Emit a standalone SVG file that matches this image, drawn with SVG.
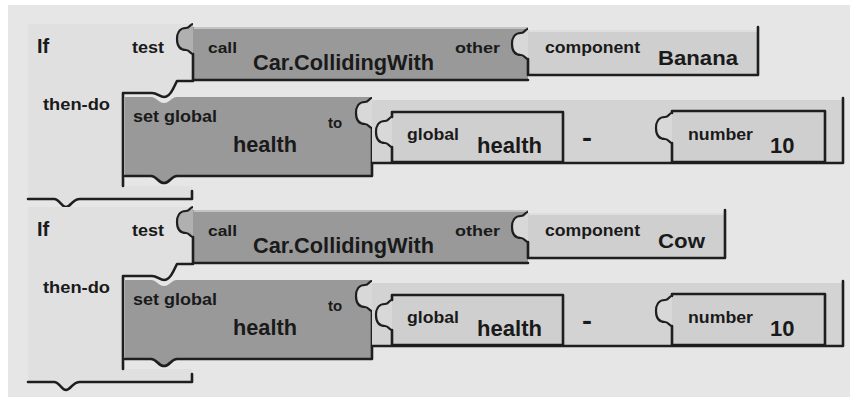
<svg xmlns="http://www.w3.org/2000/svg" xmlns:xlink="http://www.w3.org/1999/xlink" width="856" height="402" viewBox="0 0 856 402">
<style>
text{font-family:"Liberation Sans",Arial,sans-serif;font-weight:bold;fill:#1a1a1a}
.ifb{fill:#e0e0e0}
.dark{fill:#999999}
.light{fill:#cfcfcf}
.minus{fill:#d3d3d3}
.tabd{fill:#b0b0b0;stroke:#1e1e1e;stroke-width:2.2}
.tabl{fill:#d8d8d8;stroke:#1e1e1e;stroke-width:2.2}
.edge{fill:none;stroke:#1e1e1e;stroke-width:2.6;stroke-linejoin:round;stroke-linecap:round}
.hl{fill:none;stroke:#ededed;stroke-width:1.2}
</style>
<defs>
<path id="tab" d="M0,0 C-3,0 -3,4 -7,4 C-14,4 -16,10 -16,15 C-16,21 -14,26 -7,26 C-3,26 -3,30 0,30"/>
</defs>
<rect x="0" y="0" width="856" height="402" fill="#ffffff"/>
<rect x="8" y="5" width="842" height="392" fill="#e6e6e6"/>

<g id="row1">
<g id="if1">
<path class="ifb" d="M28,24 H193 V81 H177 L173,90 L166,97 H159 L152,93 H123 V186 H192 V199 H80 C72,199 71,207 66,207 C61,207 60,199 54,199 H28 Z"/>
<path class="edge" d="M193,81 H177 L173,89 C171,93 168,97 164,97 C160,97 157,93 152,93 H123 V186"/>
<path class="edge" d="M28,199 H54 C60,199 61,207 66,207 C71,207 72,199 80,199 H192 V191"/>
<text x="37" y="53" font-size="20">If</text>
<text x="132" y="53" font-size="16" textLength="32" lengthAdjust="spacingAndGlyphs">test</text>
<text x="43" y="110" font-size="17" textLength="67" lengthAdjust="spacingAndGlyphs">then-do</text>
</g>
<g id="call1">
<rect class="dark" x="193" y="27" width="335" height="53"/>
<path class="hl" d="M194,28 H527"/>
<path class="edge" d="M193,54 V80 H528"/>
<use xlink:href="#tab" x="193" y="24" class="tabd"/>
<text x="208" y="53" font-size="14" textLength="29" lengthAdjust="spacingAndGlyphs">call</text>
<text x="253" y="70" font-size="22" textLength="181" lengthAdjust="spacingAndGlyphs">Car.CollidingWith</text>
<text x="455" y="53" font-size="15" textLength="45" lengthAdjust="spacingAndGlyphs">other</text>
</g>
<g id="comp1">
<rect class="light" x="528" y="30" width="230" height="45"/>
<path class="hl" d="M529,31 H757"/>
<path class="edge" d="M528,59 V75 H758 V27"/>
<use xlink:href="#tab" x="528" y="29" class="tabl"/>
<text x="545" y="53" font-size="16" textLength="95" lengthAdjust="spacingAndGlyphs">component</text>
<text x="658" y="65" font-size="21" textLength="80" lengthAdjust="spacingAndGlyphs">Banana</text>
</g>
<g id="set1">
<path class="dark" d="M125,97 H151 C157,97 158,103 164,103 C170,103 171,97 177,97 H372 V176 H177 C171,176 170,183 164,183 C158,183 157,176 151,176 H125 Z"/>
<path class="edge" d="M125,176 H151 C157,176 158,183 164,183 C170,183 171,176 177,176 H372 V128"/>
<text x="133" y="122" font-size="16" textLength="84" lengthAdjust="spacingAndGlyphs">set global</text>
<text x="233" y="152" font-size="22" textLength="64" lengthAdjust="spacingAndGlyphs">health</text>
<text x="328" y="128" font-size="15">to</text>
</g>
<g id="minus1">
<rect class="minus" x="372" y="100" width="471" height="63"/>
<path class="edge" d="M372,163 H843 V98"/>
<use xlink:href="#tab" x="372" y="98" class="tabl"/>
<text x="582" y="146" font-size="26" textLength="10" lengthAdjust="spacingAndGlyphs">-</text>
</g>
<g id="glob1">
<rect class="light" x="392" y="112" width="171" height="50"/>
<path class="edge" d="M392,147 V162 H563 V112 H392 V117"/>
<use xlink:href="#tab" x="392" y="117" class="tabl"/>
<text x="407" y="140" font-size="16" textLength="52" lengthAdjust="spacingAndGlyphs">global</text>
<text x="477" y="153" font-size="22" textLength="65" lengthAdjust="spacingAndGlyphs">health</text>
</g>
<g id="num1">
<rect class="light" x="672" y="111" width="153" height="51"/>
<path class="edge" d="M672,143 V162 H825 V111 H672 V113"/>
<use xlink:href="#tab" x="672" y="113" class="tabl"/>
<text x="688" y="140" font-size="16" textLength="65" lengthAdjust="spacingAndGlyphs">number</text>
<text x="770" y="153" font-size="22">10</text>
</g>
</g>

<g id="row2" transform="translate(0,183)">
<g id="if2">
<path class="ifb" d="M28,24 H193 V81 H177 L173,90 L166,97 H159 L152,93 H123 V186 H192 V199 H80 C72,199 71,207 66,207 C61,207 60,199 54,199 H28 Z"/>
<path class="edge" d="M193,81 H177 L173,89 C171,93 168,97 164,97 C160,97 157,93 152,93 H123 V186"/>
<path class="edge" d="M28,199 H54 C60,199 61,207 66,207 C71,207 72,199 80,199 H192 V191"/>
<text x="37" y="53" font-size="20">If</text>
<text x="132" y="53" font-size="16" textLength="32" lengthAdjust="spacingAndGlyphs">test</text>
<text x="43" y="110" font-size="17" textLength="67" lengthAdjust="spacingAndGlyphs">then-do</text>
</g>
<g id="call2">
<rect class="dark" x="193" y="27" width="335" height="53"/>
<path class="hl" d="M194,28 H527"/>
<path class="edge" d="M193,54 V80 H528"/>
<use xlink:href="#tab" x="193" y="24" class="tabd"/>
<text x="208" y="53" font-size="14" textLength="29" lengthAdjust="spacingAndGlyphs">call</text>
<text x="253" y="70" font-size="22" textLength="181" lengthAdjust="spacingAndGlyphs">Car.CollidingWith</text>
<text x="455" y="53" font-size="15" textLength="45" lengthAdjust="spacingAndGlyphs">other</text>
</g>
<g id="comp2">
<rect class="light" x="528" y="30" width="197" height="45"/>
<path class="hl" d="M529,31 H724"/>
<path class="edge" d="M528,59 V75 H725 V27"/>
<use xlink:href="#tab" x="528" y="29" class="tabl"/>
<text x="545" y="53" font-size="16" textLength="95" lengthAdjust="spacingAndGlyphs">component</text>
<text x="658" y="65" font-size="21" textLength="47" lengthAdjust="spacingAndGlyphs">Cow</text>
</g>
<g id="set2">
<path class="dark" d="M125,97 H151 C157,97 158,103 164,103 C170,103 171,97 177,97 H372 V176 H177 C171,176 170,183 164,183 C158,183 157,176 151,176 H125 Z"/>
<path class="edge" d="M125,176 H151 C157,176 158,183 164,183 C170,183 171,176 177,176 H372 V128"/>
<text x="133" y="122" font-size="16" textLength="84" lengthAdjust="spacingAndGlyphs">set global</text>
<text x="233" y="152" font-size="22" textLength="64" lengthAdjust="spacingAndGlyphs">health</text>
<text x="328" y="128" font-size="15">to</text>
</g>
<g id="minus2">
<rect class="minus" x="372" y="100" width="471" height="63"/>
<path class="edge" d="M372,163 H843 V98"/>
<use xlink:href="#tab" x="372" y="98" class="tabl"/>
<text x="582" y="146" font-size="26" textLength="10" lengthAdjust="spacingAndGlyphs">-</text>
</g>
<g id="glob2">
<rect class="light" x="392" y="112" width="171" height="50"/>
<path class="edge" d="M392,147 V162 H563 V112 H392 V117"/>
<use xlink:href="#tab" x="392" y="117" class="tabl"/>
<text x="407" y="140" font-size="16" textLength="52" lengthAdjust="spacingAndGlyphs">global</text>
<text x="477" y="153" font-size="22" textLength="65" lengthAdjust="spacingAndGlyphs">health</text>
</g>
<g id="num2">
<rect class="light" x="672" y="111" width="153" height="51"/>
<path class="edge" d="M672,143 V162 H825 V111 H672 V113"/>
<use xlink:href="#tab" x="672" y="113" class="tabl"/>
<text x="688" y="140" font-size="16" textLength="65" lengthAdjust="spacingAndGlyphs">number</text>
<text x="770" y="153" font-size="22">10</text>
</g>
</g>
<g id="connectors"/>
</svg>
